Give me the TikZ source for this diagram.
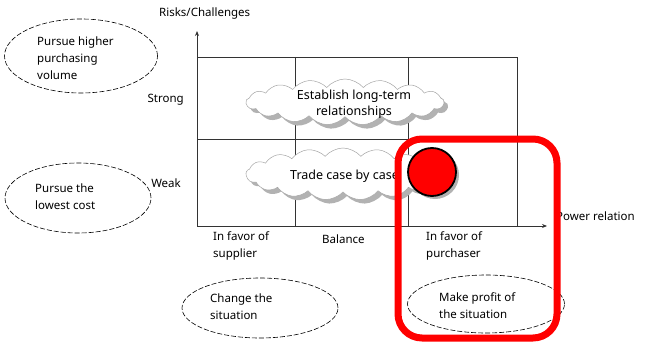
\documentclass[tikz,border=0pt]{standalone}
\usepackage{fontspec}
\setmainfont{Noto Sans}
\usetikzlibrary{shapes.symbols,shapes.geometric,arrows.meta}
\begin{document}
\begin{tikzpicture}[x=1pt,y=-1pt,
  lbl/.style={font=\fontsize{11.5}{17}\selectfont, inner sep=0pt, align=left},
  clbl/.style={font=\fontsize{12.5}{16}\selectfont, inner sep=0pt, align=center},
  goal/.style={draw, dashed, dash pattern=on 5pt off 2pt, ellipse, line width=0.6pt},
  cloudbox/.style={cloud, cloud puffs=17, cloud puff arc=100, cloud ignores aspect, draw=gray!70, line width=0.5pt, fill=white, inner sep=0pt},
  cloudshadow/.style={cloud, cloud puffs=17, cloud puff arc=100, cloud ignores aspect, fill=gray!60, draw=none, inner sep=0pt},
  grid/.style={draw=black!80, line width=0.8pt},
  axis/.style={draw=black!80, line width=1pt, -{Stealth[length=5pt,width=4pt]}}
]
\useasboundingbox (0,0) rectangle (647,342);
% grid
\coordinate (o) at (197,226);
\coordinate (ytop) at (197,31);
\coordinate (xend) at (547,226);
\draw[grid] (197,57) -- (517,57) -- (517,226);
\draw[grid] (197,139) -- (517,139);
\draw[grid] (295,57) -- (295,226);
\draw[grid] (408,57) -- (408,226);
\draw[axis] (o) -- (ytop);
\draw[axis] (o) -- (xend);
% clouds
\node[cloudshadow, minimum width=198pt, minimum height=46pt] at (349,106) {};
\node[cloudbox, minimum width=198pt, minimum height=46pt] (c1) at (345,102) {};
\node[clbl] (t1) at (354,104) {Establish long-term\\relationships};
\node[cloudshadow, minimum width=194pt, minimum height=52pt] at (347,178) {};
\node[cloudbox, minimum width=194pt, minimum height=52pt] (c2) at (343,174) {};
\node[clbl, anchor=west] (t2) at (290,176) {Trade case by case};
% red dot
\fill[gray!60] (435,175) circle (24pt);
\node[circle, fill=red, draw=black, line width=1.8pt, minimum size=48pt, inner sep=0pt] (dot) at (432,172) {};
% axis labels
\node[lbl, anchor=west] (rc) at (159,14) {Risks/Challenges};
\node[lbl, anchor=west] (pr) at (556,216) {Power relation};
\node[lbl, anchor=east] (st) at (184,100) {Strong};
\node[lbl, anchor=east] (wk) at (181,183) {Weak};
\node[lbl, anchor=north west] (s1) at (213,231) {In favor of\\supplier};
\node[lbl, anchor=north west] (s2) at (322,235) {Balance};
\node[lbl, anchor=north west] (s3) at (426,231) {In favor of\\purchaser};
% goals
\node[goal, minimum width=153pt, minimum height=74pt] (g1) at (81,56) {};
\node[lbl, anchor=west] at (37,58) {Pursue higher\\purchasing\\volume};
\node[goal, minimum width=146pt, minimum height=70pt] (g2) at (78,198) {};
\node[lbl, anchor=west] at (35,197) {Pursue the\\lowest cost};
\node[goal, minimum width=156pt, minimum height=60pt] (g3) at (260,308) {};
\node[lbl, anchor=west] at (210,307) {Change the\\situation};
\node[goal, minimum width=157pt, minimum height=58pt] (g4) at (486,304) {};
\node[lbl, anchor=west] at (439,306) {Make profit of\\the situation};
% red frame
\draw[red, line width=7pt, rounded corners=24pt] (398,139) rectangle (557,338);
\end{tikzpicture}
\end{document}
